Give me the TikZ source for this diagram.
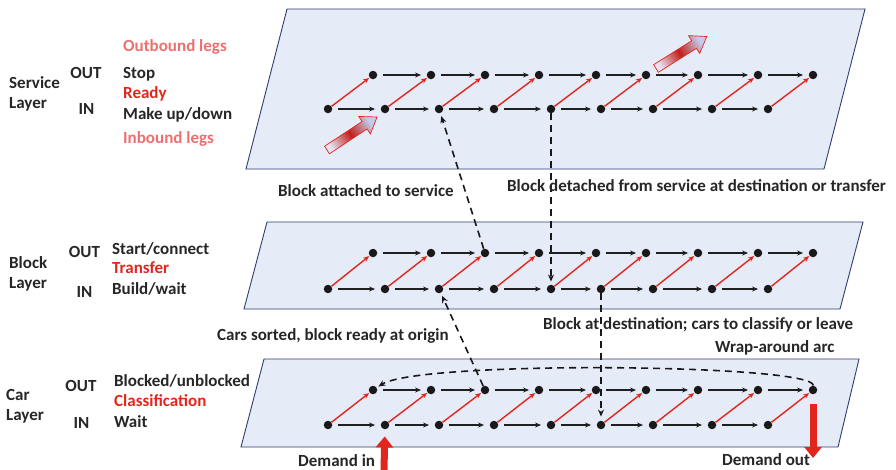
\documentclass[tikz,border=0pt]{standalone}
\usepackage{fontspec}
\setmainfont{Carlito}
\usetikzlibrary{arrows.meta,calc}
\definecolor{pred}{HTML}{E2261C}
\definecolor{planefill}{HTML}{E6EBF8}
\definecolor{planeline}{HTML}{2F3E6E}
\definecolor{txt}{HTML}{262626}
\definecolor{legred}{HTML}{EE6F6F}
\definecolor{arrtail}{HTML}{E4E2F2}
\definecolor{arrhead}{HTML}{C4CCEC}
\definecolor{arrmid}{HTML}{C21F1A}
\begin{document}
\begin{tikzpicture}[x=1pt,y=-1pt,
  every node/.style={font=\fontsize{17}{20}\selectfont\bfseries, text=txt},
  lbl/.style={anchor=west, inner sep=0pt, text height=11pt, text depth=0pt},
  clbl/.style={inner sep=0pt, text height=11pt, text depth=0pt},
  plane/.style={fill=planefill, draw=planeline, line width=0.9pt},
  dot/.style={circle, fill=black!90, inner sep=0pt, minimum size=8.5pt},
  harc/.style={-{Stealth[length=6pt,width=5pt]}, line width=1.4pt, black!88, shorten <=5.5pt, shorten >=5.5pt},
  rarc/.style={-{Stealth[length=6pt,width=5pt]}, line width=1.4pt, pred, shorten >=0.5pt},
  darc/.style={-{Stealth[length=7pt,width=6pt]}, line width=1.6pt, black!90, dash pattern=on 7pt off 5pt},
  demand/.style={-{Triangle[length=11pt,width=17pt]}, line width=7pt, pred},
  bigarrow/.style={draw=pred, line width=0.7pt, top color=arrtail, bottom color=arrhead, middle color=arrmid}
]
\useasboundingbox (0,0) rectangle (896,469);

% planes
\draw[plane] (287,9) -- (865,9) -- (824,169) -- (246,169) -- cycle;
\draw[plane] (267,222) -- (863,222) -- (840,309) -- (244,309) -- cycle;
\draw[plane] (264,359) -- (859,359) -- (838,447) -- (241,447) -- cycle;

% nodes
\foreach \L/\yt/\yb in {s/75/109, b/253/289, c/390/425} {
  \foreach \i/\x in {1/328,2/385,3/439,4/494,5/551,6/601,7/653,8/712,9/768}
    \node[dot] (\L-b\i) at (\x,\yb) {};
  \foreach \i/\x in {1/373,2/431,3/485,4/539,5/596,6/646,7/698,8/758,9/813}
    \node[dot] (\L-t\i) at (\x,\yt) {};
}

% arcs
\foreach \L in {s,b,c} {
  \foreach \i in {1,...,9}
    \draw[rarc] (\L-b\i) -- (\L-t\i);
  \foreach \i [evaluate=\i as \j using int(\i+1)] in {1,...,8} {
    \draw[harc] (\L-b\i) -- (\L-b\j);
    \draw[harc] (\L-t\i) -- (\L-t\j);
  }
}

% dashed inter-layer arcs
\draw[darc, shorten >=3pt] (b-t3) -- (s-b3);
\draw[darc, shorten >=3pt] (s-b5) -- (b-b5);
\draw[darc, shorten >=3pt] (c-t3) -- (b-b3);
\draw[darc, shorten >=4pt] (b-b6) -- (c-b6);
\draw[darc, shorten >=2pt] (c-t9) .. controls (815,364) and (420,360) .. (c-t1);

% demand arrows
\coordinate (din) at (384,470);
\coordinate (dout) at (813,458);
\draw[demand, shorten >=7pt] (din) -- (c-b2);
\draw[demand, shorten <=10pt, shorten >=0pt] (c-t9) -- (dout);

% big gradient arrows
\begin{scope}[shift={(327,150)}, rotate=33.4]
  \path[bigarrow, shading angle=123.4] (0,-4.5) -- (45,-4.5) -- (45,-10.5) -- (60,0) -- (45,10.5) -- (45,4.5) -- (0,4.5) -- cycle;
\end{scope}
\begin{scope}[shift={(656,68.5)}, rotate=32.2]
  \path[bigarrow, shading angle=122.2] (0,-4.5) -- (45,-4.5) -- (45,-10.5) -- (60,0) -- (45,10.5) -- (45,4.5) -- (0,4.5) -- cycle;
\end{scope}

% left labels: service
\node[lbl] (sl1) at (9,83) {Service};
\node[lbl] (sl2) at (9,103) {Layer};
\node[clbl] (sout) at (86,73) {OUT};
\node[clbl] (sin) at (86.5,109) {IN};
\node[lbl, text=legred] (sob) at (123,46) {Outbound legs};
\node[lbl] (sstop) at (123,73) {Stop};
\node[lbl, text=pred] (sready) at (123,93) {Ready};
\node[lbl] (smake) at (123,114) {Make up/down};
\node[lbl, text=legred] (sib) at (123,138) {Inbound legs};

% block
\node[lbl] (bl1) at (9,263) {Block};
\node[lbl] (bl2) at (9,283) {Layer};
\node[clbl] (bout) at (84.5,252) {OUT};
\node[clbl] (bin) at (84.5,292) {IN};
\node[lbl] (bstart) at (112,249) {Start/connect};
\node[lbl, text=pred] (btr) at (112,268) {Transfer};
\node[lbl] (bbuild) at (112,289) {Build/wait};

% car
\node[lbl] (cl1) at (6,395) {Car};
\node[lbl] (cl2) at (6,415) {Layer};
\node[clbl] (cout) at (81,386) {OUT};
\node[clbl] (cin) at (81.5,423) {IN};
\node[lbl] (cblk) at (114,381) {Blocked/unblocked};
\node[lbl, text=pred] (ccls) at (114,401) {Classification};
\node[lbl] (cwait) at (114,422) {Wait};

% captions
\node[lbl] (cap1) at (278,191) {Block attached to service};
\node[lbl] (cap2) at (507,186) {Block detached from service at destination or transfer};
\node[lbl] (cap3) at (217,335) {Cars sorted, block ready at origin};
\node[lbl] (cap4) at (543,324) {Block at destination; cars to classify or leave};
\node[lbl] (cap5) at (715,347) {Wrap-around arc};
\node[lbl] (cap6) at (298,461) {Demand in};
\node[lbl] (cap7) at (722,460) {Demand out};
\end{tikzpicture}
\end{document}
